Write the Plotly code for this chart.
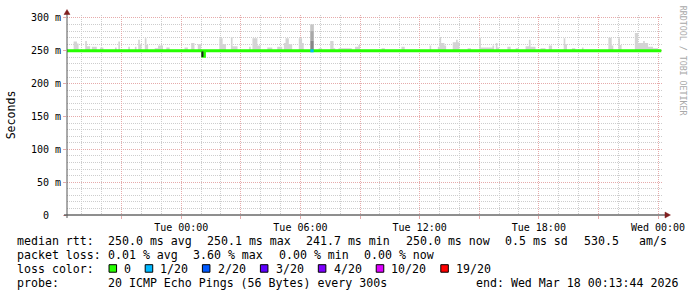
import pandas as pd
import plotly.graph_objects as go

# ---------------- data ----------------
data_start = "2026-03-16 18:15"
data_end = "2026-03-18 00:10"
view_start = "2026-03-16 18:15"
view_end = "2026-03-18 00:15"

median_rtt = 250.0
smoke_floor = 251.0

spike_start = [
    "2026-03-16 18:35", "2026-03-16 18:45", "2026-03-16 19:10", "2026-03-16 19:15", "2026-03-16 19:30",
    "2026-03-16 19:55", "2026-03-16 20:40", "2026-03-16 20:50", "2026-03-16 21:20", "2026-03-16 21:40",
    "2026-03-16 21:50", "2026-03-16 21:55", "2026-03-16 22:10", "2026-03-16 22:15", "2026-03-16 22:40",
    "2026-03-16 22:50", "2026-03-16 23:15",
    "2026-03-17 00:10", "2026-03-17 00:30", "2026-03-17 00:50", "2026-03-17 01:55", "2026-03-17 02:05",
    "2026-03-17 02:30", "2026-03-17 02:35", "2026-03-17 03:25", "2026-03-17 03:35", "2026-03-17 03:50",
    "2026-03-17 04:20", "2026-03-17 04:50", "2026-03-17 05:10", "2026-03-17 05:15", "2026-03-17 05:25",
    "2026-03-17 05:55", "2026-03-17 06:05", "2026-03-17 06:30", "2026-03-17 06:55", "2026-03-17 07:30",
    "2026-03-17 07:40", "2026-03-17 07:55", "2026-03-17 08:45", "2026-03-17 08:55", "2026-03-17 10:05",
    "2026-03-17 11:05", "2026-03-17 12:30", "2026-03-17 12:55", "2026-03-17 13:00", "2026-03-17 13:05",
    "2026-03-17 13:15", "2026-03-17 13:40", "2026-03-17 13:50", "2026-03-17 13:55", "2026-03-17 14:25",
    "2026-03-17 15:00", "2026-03-17 15:05", "2026-03-17 15:40", "2026-03-17 15:50", "2026-03-17 15:55",
    "2026-03-17 16:25", "2026-03-17 16:50", "2026-03-17 17:20", "2026-03-17 17:30", "2026-03-17 17:35",
    "2026-03-17 18:05", "2026-03-17 18:30", "2026-03-17 19:15", "2026-03-17 19:20", "2026-03-17 19:40",
    "2026-03-17 20:10", "2026-03-17 21:30", "2026-03-17 21:40", "2026-03-17 22:00", "2026-03-17 22:05",
    "2026-03-17 22:50", "2026-03-17 23:00", "2026-03-17 23:15", "2026-03-17 23:20", "2026-03-17 23:30",
    "2026-03-17 23:45",
]
spike_end = [
    "2026-03-16 18:45", "2026-03-16 18:50", "2026-03-16 19:15", "2026-03-16 19:25", "2026-03-16 19:45",
    "2026-03-16 20:05", "2026-03-16 20:45", "2026-03-16 20:55", "2026-03-16 21:25", "2026-03-16 21:45",
    "2026-03-16 21:55", "2026-03-16 22:00", "2026-03-16 22:15", "2026-03-16 22:20", "2026-03-16 22:50",
    "2026-03-16 23:05", "2026-03-16 23:25",
    "2026-03-17 00:20", "2026-03-17 00:40", "2026-03-17 01:00", "2026-03-17 02:05", "2026-03-17 02:15",
    "2026-03-17 02:35", "2026-03-17 02:50", "2026-03-17 03:30", "2026-03-17 03:50", "2026-03-17 04:00",
    "2026-03-17 04:35", "2026-03-17 05:05", "2026-03-17 05:15", "2026-03-17 05:25", "2026-03-17 05:35",
    "2026-03-17 06:05", "2026-03-17 06:10", "2026-03-17 06:40", "2026-03-17 07:05", "2026-03-17 07:40",
    "2026-03-17 07:45", "2026-03-17 08:35", "2026-03-17 08:55", "2026-03-17 09:00", "2026-03-17 10:15",
    "2026-03-17 11:15", "2026-03-17 12:35", "2026-03-17 13:00", "2026-03-17 13:05", "2026-03-17 13:15",
    "2026-03-17 13:20", "2026-03-17 13:50", "2026-03-17 13:55", "2026-03-17 14:00", "2026-03-17 14:35",
    "2026-03-17 15:05", "2026-03-17 15:40", "2026-03-17 15:45", "2026-03-17 15:55", "2026-03-17 16:00",
    "2026-03-17 16:35", "2026-03-17 17:00", "2026-03-17 17:30", "2026-03-17 17:35", "2026-03-17 17:50",
    "2026-03-17 18:20", "2026-03-17 18:40", "2026-03-17 19:20", "2026-03-17 19:25", "2026-03-17 19:50",
    "2026-03-17 20:15", "2026-03-17 21:40", "2026-03-17 21:45", "2026-03-17 22:05", "2026-03-17 22:10",
    "2026-03-17 23:00", "2026-03-17 23:15", "2026-03-17 23:20", "2026-03-17 23:30", "2026-03-17 23:45",
    "2026-03-18 00:00",
]
spike_top = [
    264, 261, 265, 257, 256, 255, 255, 264, 256, 256, 267, 260, 269, 259, 254, 258, 255,
    255, 262, 260, 269, 260, 271, 257, 256, 269, 258, 255, 256, 262, 269, 260,
    269, 262, 290, 254, 265, 254, 254, 256, 259, 254, 256, 258, 256, 271, 262,
    258, 263, 267, 263, 254, 270, 255, 258, 262, 255, 256, 254, 257, 267, 256,
    254, 258, 269, 260, 254, 255, 270, 258, 269, 259, 277, 262, 265, 262, 256,
    254,
]

# dip of the median (min 241.7 ms)
dip_start, dip_end, dip_value = "2026-03-17 01:05", "2026-03-17 01:10", 241.7
dip_smoke_start, dip_smoke_end, dip_smoke_low = "2026-03-17 01:01", "2026-03-17 01:07", 240.5

# 1/20 packet loss event with the tall smoke spike
loss_start, loss_end = "2026-03-17 06:30", "2026-03-17 06:40"
loss_spike_levels = [250.0, 265.0, 280.0, 290.0]
loss_spike_colors = ["#868686", "#a8a8a8", "#c6c6c6"]

y_tick_vals = [0, 50, 100, 150, 200, 250, 300]
y_tick_text = ["0\u00a0\u00a0", "50 m", "100 m", "150 m", "200 m", "250 m", "300 m"]

x_tick_vals = ["2026-03-16 21:00", "2026-03-17 00:00", "2026-03-17 03:00", "2026-03-17 06:00",
               "2026-03-17 09:00", "2026-03-17 12:00", "2026-03-17 15:00", "2026-03-17 18:00",
               "2026-03-17 21:00", "2026-03-18 00:00"]
x_tick_text = ["", "Tue 00:00", "", "Tue 06:00", "", "Tue 12:00", "", "Tue 18:00", "", "Wed 00:00"]

loss_labels = ["0", "1/20", "2/20", "3/20", "4/20", "10/20", "19/20"]
loss_colors = ["#26ff00", "#00b8ff", "#0059ff", "#5e00ff", "#7e00ff", "#dd00ff", "#ff0000"]

rtt_items = ["median rtt:", "250.0 ms avg", "250.1 ms max", "241.7 ms min", "250.0 ms now",
             "0.5 ms sd", "530.5", "am/s"]
loss_items = ["packet loss:", "0.01 % avg", "3.60 % max", "0.00 % min", "0.00 % now"]
probe_items = ["probe:", "20 ICMP Echo Pings (56 Bytes) every 300s", "end: Wed Mar 18 00:13:44 2026"]
watermark = "RRDTOOL / TOBI OETIKER"
y_title = "Seconds"

# ---------------- styling / geometry ----------------
W, H = 697, 297
L, R, T, B = 67, 30, 13, 82
PW, PH = W - L - R, H - T - B
MONO = "DejaVu Sans Mono"
GRID = "#cdcdcd"
MGRID = "#e6abab"
ARROW = "#801f1f"
AXIS = "#1f1f1f"
SMOKE = "#d4d4d4"


def fx(px):
    return (px - L) / PW


def fy(py):
    return (H - B - py) / PH


# ---------------- series ----------------
grid = pd.date_range(data_start, data_end, freq="5min")
top = pd.Series(smoke_floor, index=grid)
for s, e, v in zip(spike_start, spike_end, spike_top):
    top[(grid >= pd.Timestamp(s)) & (grid < pd.Timestamp(e))] = v
med = pd.Series(median_rtt, index=grid)
med[(grid >= pd.Timestamp(dip_start)) & (grid < pd.Timestamp(dip_end))] = dip_value

fig = go.Figure()
fig.add_trace(go.Scatter(x=grid, y=[median_rtt] * len(grid), mode="lines",
                         line=dict(width=0, shape="hv"), hoverinfo="skip"))
fig.add_trace(go.Scatter(x=grid, y=top.values, mode="lines", fill="tonexty",
                         fillcolor=SMOKE, line=dict(width=0, shape="hv"), hoverinfo="skip"))

for lo, hi, col in zip(loss_spike_levels[:-1], loss_spike_levels[1:], loss_spike_colors):
    fig.add_trace(go.Scatter(x=[loss_start, loss_start, loss_end, loss_end, loss_start],
                             y=[lo, hi, hi, lo, lo], mode="lines", fill="toself",
                             fillcolor=col, line=dict(width=0), hoverinfo="skip"))

fig.add_trace(go.Scatter(x=grid, y=med.values, mode="lines",
                         line=dict(color=loss_colors[0], width=3, shape="hv"), hoverinfo="skip"))
fig.add_trace(go.Scatter(x=[loss_start, loss_end], y=[median_rtt, median_rtt], mode="lines",
                         line=dict(color=loss_colors[1], width=3), hoverinfo="skip"))
fig.add_trace(go.Scatter(x=[dip_smoke_start, dip_smoke_start, dip_smoke_end, dip_smoke_end, dip_smoke_start],
                         y=[dip_smoke_low, median_rtt - 1, median_rtt - 1, dip_smoke_low, dip_smoke_low],
                         mode="lines", fill="toself", fillcolor="#202020",
                         line=dict(width=0), hoverinfo="skip"))

# ---------------- axes ----------------
fig.update_xaxes(
    type="date", range=[view_start, view_end],
    tickvals=x_tick_vals, ticktext=x_tick_text,
    ticks="outside", ticklen=3, tickcolor=MGRID, tickwidth=1,
    showgrid=True, gridcolor=MGRID, gridwidth=1, griddash="1px,1px",
    minor=dict(dtick=3600000, tick0="2026-03-16 00:00", showgrid=True,
               gridcolor=GRID, gridwidth=1, griddash="1px,1px"),
    zeroline=False, showline=False,
    tickfont=dict(family=MONO, size=10, color="black"),
)
fig.update_yaxes(
    range=[0, 304.5], tickvals=y_tick_vals, ticktext=y_tick_text,
    ticks="outside", ticklen=3, tickcolor=MGRID, tickwidth=1,
    showgrid=True, gridcolor=MGRID, gridwidth=1, griddash="1px,1px",
    minor=dict(dtick=10, showgrid=True, gridcolor=GRID, gridwidth=1, griddash="1px,1px"),
    zeroline=False, showline=False,
    tickfont=dict(family=MONO, size=10, color="black"),
)

shapes = [
    dict(type="line", xref="paper", yref="paper", x0=fx(64), x1=fx(670), y0=0, y1=0,
         line=dict(color=AXIS, width=1), layer="above"),
    dict(type="line", xref="paper", yref="paper", x0=0, x1=0, y0=fy(218), y1=fy(12),
         line=dict(color="#555555", width=1), layer="above"),
    dict(type="path", xref="paper", yref="paper", layer="above",
         path=f"M {fx(669)} {fy(212)} L {fx(674.5)} {fy(215)} L {fx(669)} {fy(218)} Z",
         fillcolor=ARROW, line=dict(color=ARROW, width=0.5)),
    dict(type="path", xref="paper", yref="paper", layer="above",
         path=f"M {fx(64)} {fy(12.5)} L {fx(67)} {fy(7.5)} L {fx(70)} {fy(12.5)} Z",
         fillcolor=ARROW, line=dict(color=ARROW, width=0.5)),
]

annotations = []


def txt(s, px, py, size=11.6, color="black", angle=0, xanchor="left"):
    annotations.append(dict(text=s, x=fx(px), y=fy(py), xref="paper", yref="paper",
                            xanchor=xanchor, yanchor="middle", showarrow=False,
                            textangle=angle, borderpad=0,
                            font=dict(family=MONO, size=size, color=color)))


for s, px in zip(rtt_items, [16, 107, 207, 307, 407, 507, 586, 642]):
    txt(s, px, 241.5)
for s, px in zip(loss_items, [16, 107, 193, 279, 365]):
    txt(s, px, 255.5)
txt("loss color:", 16, 269.5)
box_x = [109.3, 145.7, 203.3, 261.7, 320, 378.3, 443.3]
lab_x = [123.3, 160, 217.7, 276, 334.3, 392.3, 457.3]
for lbl, col, bx, lx in zip(loss_labels, loss_colors, box_x, lab_x):
    shapes.append(dict(type="rect", xref="paper", yref="paper",
                       x0=fx(bx), x1=fx(bx + 7.6), y0=fy(272.8), y1=fy(265.2),
                       fillcolor=col, line=dict(color="black", width=1)))
    txt(lbl, lx, 269.5)
for s, px in zip(probe_items, [16, 107, 478]):
    txt(s, px, 283.5)

txt(y_title, 11, 114, size=11.6, angle=-90, xanchor="center")
txt(watermark, 688, 59, size=8.3, color="#a8a8a8", angle=90, xanchor="center")

fig.update_layout(
    width=W, height=H, margin=dict(l=L, r=R, t=T, b=B, pad=0),
    paper_bgcolor="white", plot_bgcolor="white", showlegend=False,
    shapes=shapes, annotations=annotations,
)

fig.write_html("out.html")
